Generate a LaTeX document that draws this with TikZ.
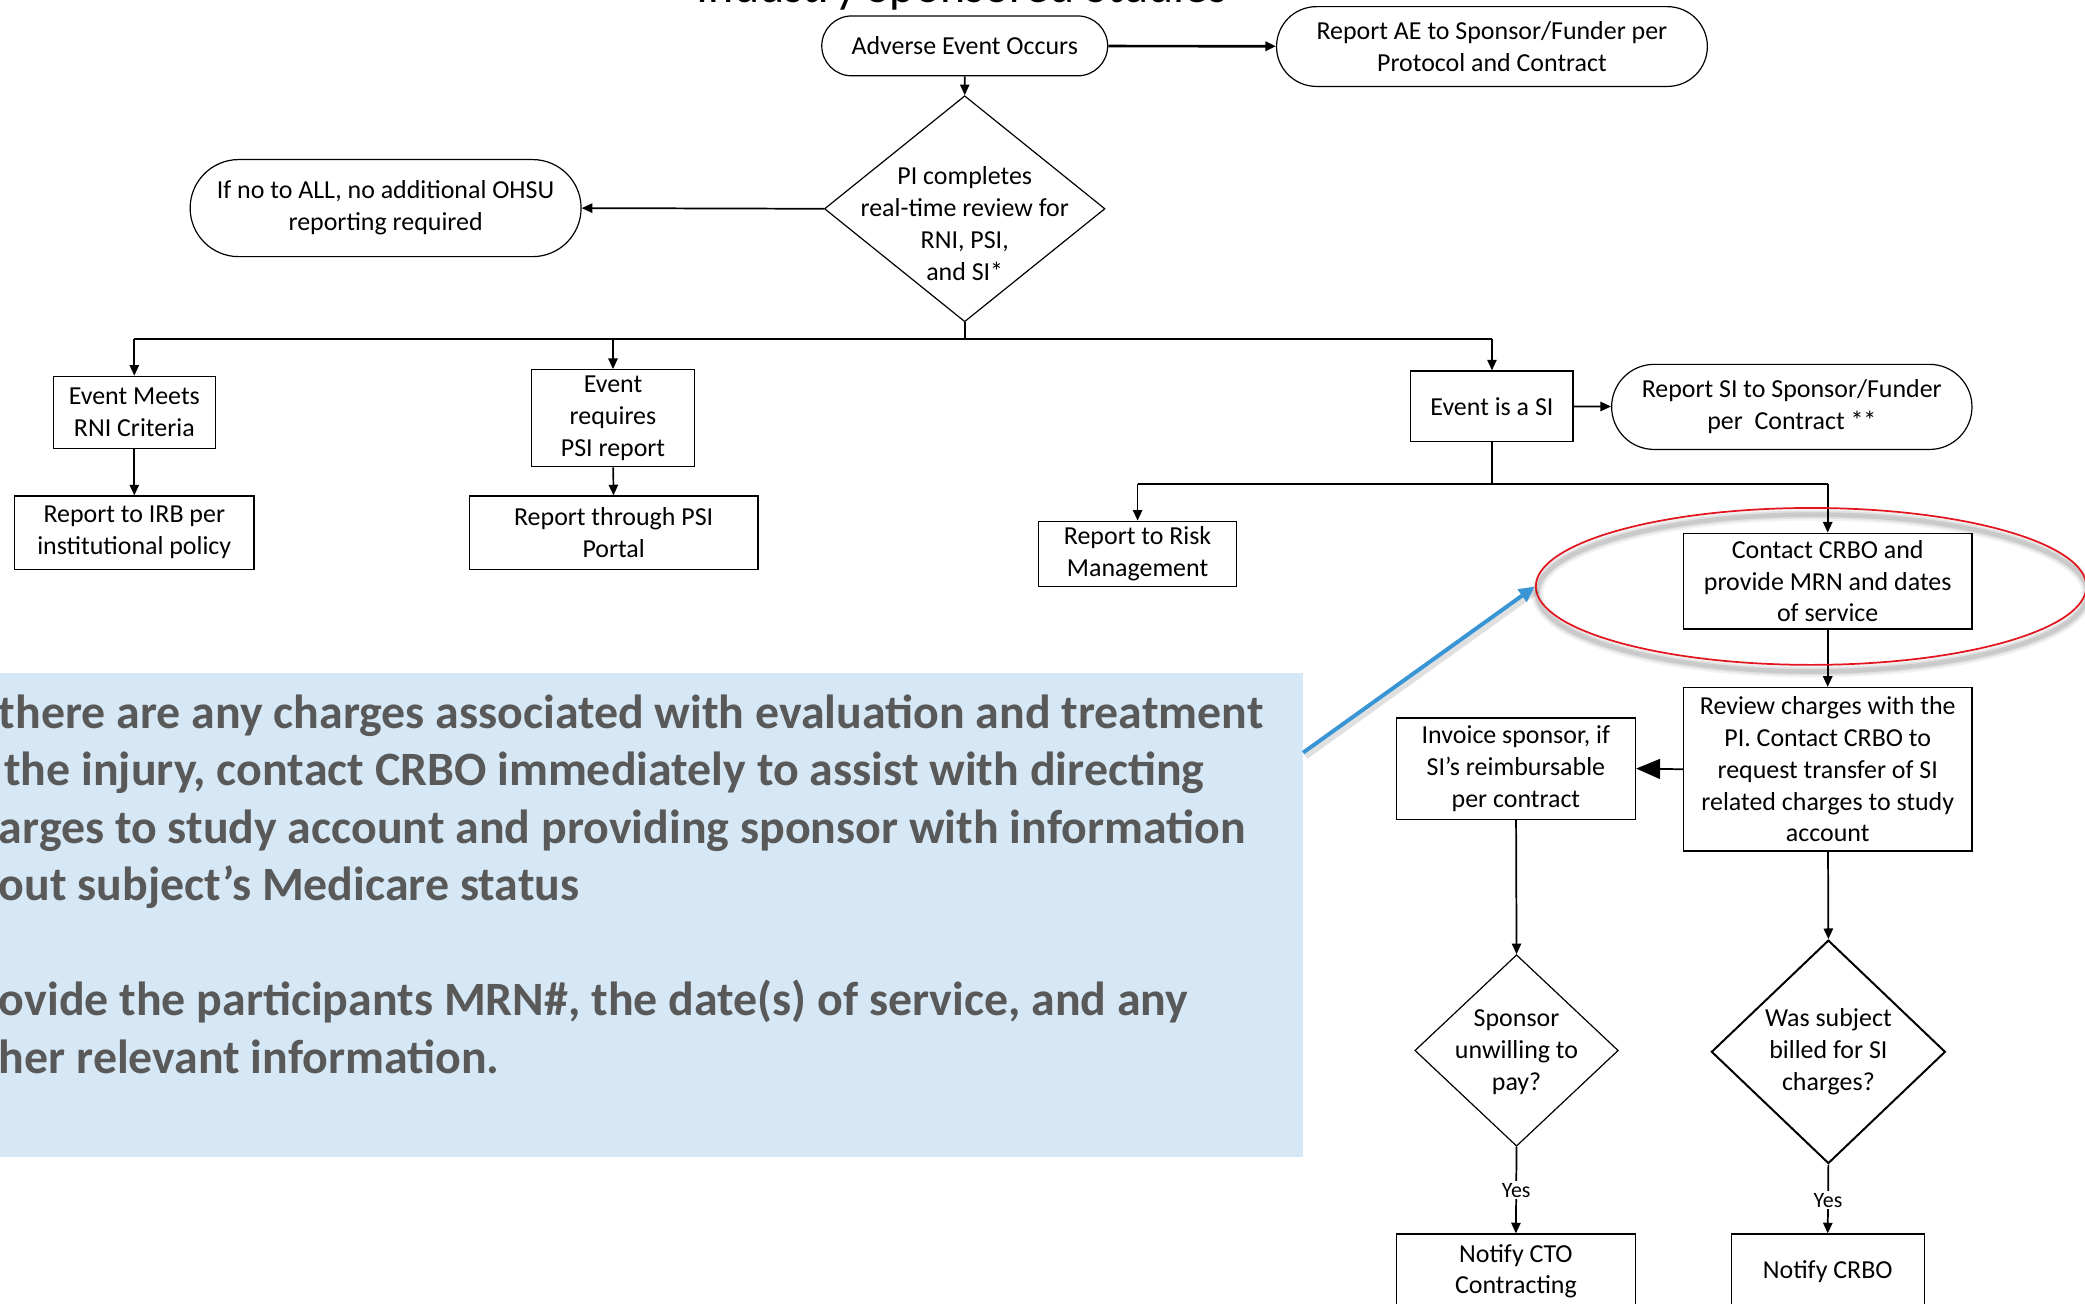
\documentclass[tikz,border=0pt]{standalone}
\usepackage{fontspec}
\setmainfont{Carlito}
\usetikzlibrary{shapes.geometric,shapes.misc,arrows.meta}

\definecolor{notefill}{HTML}{D6E8F5}
\definecolor{notetext}{HTML}{595959}
\definecolor{pointer}{HTML}{3A95D5}
\definecolor{ringred}{HTML}{E3151F}

\begin{document}
\begin{tikzpicture}[x=1pt,y=-1pt,
  txt/.style={font=\fontsize{19.5}{24}\selectfont, align=center},
  box/.style={draw, line width=0.9pt, inner sep=0pt, txt},
  term/.style={draw, rounded rectangle, line width=0.9pt, inner sep=0pt, txt},
  dia/.style={draw, diamond, line width=0.9pt, inner sep=0pt},
  bus/.style={line width=1.8pt},
  conn/.style={line width=1.3pt, -{Triangle[length=8pt,width=7pt]}},
  yes/.style={fill=white, inner sep=1.5pt, font=\fontsize{16.5}{18}\selectfont},
  notetxt/.style={anchor=base west, inner sep=0pt, text=notetext,
    font=\fontsize{36}{43}\selectfont\bfseries},
]
\path[use as bounding box] (0,0) rectangle (1568,980);
\clip (0,0) rectangle (1568,980);

% heading (runs off the top edge)
\node[anchor=base, inner sep=0pt, font=\fontsize{36}{40}\selectfont] (title) at (723.5,2) {Industry Sponsored Studies};

% explanatory note on the left
\node[fill=notefill, anchor=north west, inner sep=0pt, minimum width=990pt, minimum height=364pt] (note) at (-10,506) {};
\node[notetxt] (l1) at (-1,548) {there are any charges associated with evaluation and treatment};
\node[notetxt] (l2) at (3,591) {the injury, contact CRBO immediately to assist with directing};
\node[notetxt] (l3) at (-1,634) {arges to study account and providing sponsor with information};
\node[notetxt] (l4) at (-1,677) {out subject’s Medicare status};
\node[notetxt] (l5) at (-1,764) {ovide the participants MRN\#, the date(s) of service, and any};
\node[notetxt] (l6) at (-1,807) {her relevant information.};

% top of the flow
\node[term, minimum width=215pt, minimum height=45pt] (ae) at (725.5,34.5) {Adverse Event Occurs};
\node[term, minimum width=324pt, minimum height=60pt] (aerep) at (1122,35) {Report AE to Sponsor/Funder per\\Protocol and Contract};
\node[dia, minimum width=211pt, minimum height=170pt] (pi) at (725.5,157) {};
\node[txt] (pitext) at (725.5,168) {PI completes\\real-time review for\\RNI, PSI,\\and SI*};
\node[term, minimum width=294pt, minimum height=73pt] (none) at (290,156.5) {If no to ALL, no additional OHSU\\reporting required};

% three branches
\node[box, minimum width=122pt, minimum height=54pt] (rni) at (101,310) {Event Meets\\RNI Criteria};
\node[box, minimum width=180pt, minimum height=55pt] (irb) at (101,400.5) {Report to IRB per\\institutional policy};
\node[box, minimum width=122pt, minimum height=73pt] (psi) at (461,314.5) {Event\\requires\\PSI report};
\node[box, minimum width=217pt, minimum height=55pt] (portal) at (461.5,400.5) {Report through PSI\\Portal};
\node[box, minimum width=122pt, minimum height=53pt] (si) at (1122,305.5) {Event is a SI};
\node[term, minimum width=271pt, minimum height=64pt] (sirep) at (1347.5,306) {Report SI to Sponsor/Funder\\per\ \ Contract **};

% SI follow-up
\node[box, minimum width=149pt, minimum height=49pt] (risk) at (855.5,416.5) {Report to Risk\\Management};
\node[box, minimum width=217pt, minimum height=72pt] (crbo) at (1374.5,437) {Contact CRBO and\\provide MRN and dates\\of service};
\node[box, minimum width=217pt, minimum height=123pt] (review) at (1374.5,578.5) {Review charges with the\\PI. Contact CRBO to\\request transfer of SI\\related charges to study\\account};
\node[box, minimum width=180pt, minimum height=76pt] (invoice) at (1140,578) {Invoice sponsor, if\\SI’s reimbursable\\per contract};
\node[dia, minimum width=153pt, minimum height=144pt] (unwill) at (1140.5,790) {};
\node[txt] (unwilltext) at (1140.5,791) {Sponsor\\unwilling to\\pay?};
\node[dia, line width=1.5pt, minimum width=176pt, minimum height=168pt] (billed) at (1375,791) {};
\node[txt] (billedtext) at (1375,791) {Was subject\\billed for SI\\charges?};
\node[box, minimum width=180pt, minimum height=56pt] (cto) at (1140,956) {Notify CTO\\Contracting};
\node[box, minimum width=145pt, minimum height=56pt] (notify) at (1374.5,956) {Notify CRBO};

% connectors
\draw[conn, line width=2pt] (ae) -- (aerep);
\draw[conn] (ae) -- (pi.north);
\draw[conn] (pi.west) -- (none.east);

\coordinate (fork) at (725.5,255);
\draw[bus] (pi.south) -- (fork);
\draw[bus] (rni.north |- fork) -- (si.north |- fork);
\draw[conn] (rni.north |- fork) -- (rni.north);
\draw[conn] (psi.north |- fork) -- (psi.north);
\draw[conn] (si.north |- fork) -- (si.north);
\draw[conn] (rni) -- (irb);
\draw[conn] (psi) -- (portal);
\draw[conn] (si) -- (sirep);

\coordinate (fork2) at (1122,364);
\draw[bus] (si.south) -- (fork2);
\draw[bus] (risk.north |- fork2) -- (crbo.north |- fork2);
\draw[conn] (risk.north |- fork2) -- (risk.north);
\draw[conn] (crbo.north |- fork2) -- (crbo.north);
\draw[conn] (crbo) -- (review);
\draw[line width=1.3pt, -{Triangle[length=18pt,width=15pt]}] (review.west) -- (invoice.east);
\draw[conn] (invoice) -- (unwill.north);
\draw[conn] (review) -- (billed.north);
\draw[conn] (unwill.south) -- node[yes, pos=0.5] (yes1) {Yes} (cto.north);
\draw[conn] (billed.south) -- node[yes, pos=0.52] (yes2) {Yes} (notify.north);

% highlight ring with its soft shadow
\foreach \w/\o in {9/0.05, 6/0.07, 3.5/0.10}
  \draw[black, line width=\w pt, opacity=\o] (1363,446) ellipse [x radius=207, y radius=59];
\node[ellipse, draw=ringred, line width=1.3pt, inner sep=0pt, minimum width=414pt, minimum height=118pt] (ring) at (1362,441) {};

% pointer from the note to the ring
\coordinate (tail) at (980,566);
\draw[black, opacity=0.12, line width=4pt] ([shift={(2,3)}]tail) -- ([shift={(2,3)}]ring.west);
\draw[pointer, line width=3pt, -{Triangle[length=12pt,width=11pt]}] (tail) -- (ring.west);
\end{tikzpicture}
\end{document}
